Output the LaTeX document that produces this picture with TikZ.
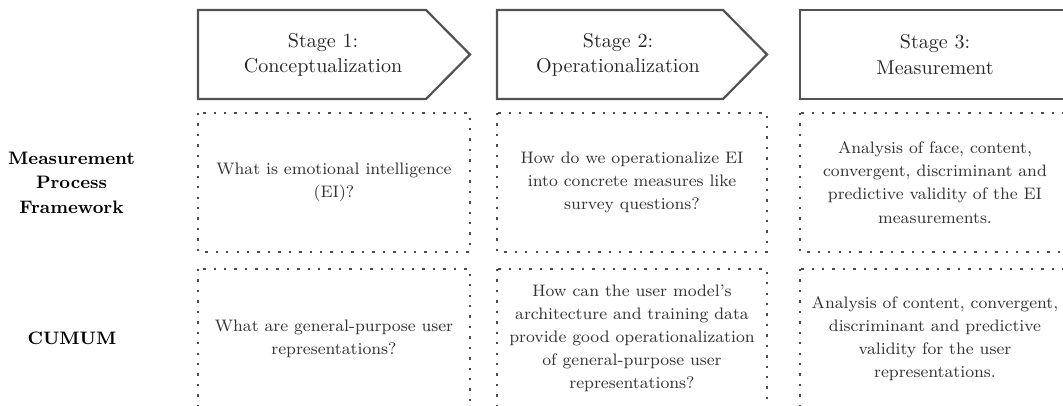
\documentclass[tikz,border=0pt]{standalone}
\usepackage{tikz}
\begin{document}
\begin{tikzpicture}[x=0.498pt, y=-0.498pt,
	stagebox/.style={draw=black!68, line width=1.1pt, line join=miter},
	dotbox/.style={draw=black!70, line width=1.2pt, dash pattern=on 1.2pt off 4pt},
	stagetext/.style={align=center, text=black!85, font=\fontsize{10}{12.5}\selectfont},
	celltext/.style={align=center, text=black!80, font=\fontsize{8.3}{11.5}\selectfont},
	rowlabel/.style={align=center, font=\fontsize{9}{12.2}\selectfont\bfseries}]
		\useasboundingbox (0,0) rectangle (1063,406);
		\clip (0,0) rectangle (1063,406);
		%Fasi
		\draw [stagebox] (198,10) -- (426,10) -- (470,54.5) -- (426,99) -- (198,99) -- cycle;
		\draw [stagebox] (497,10) -- (723,10) -- (767,54.5) -- (723,99) -- (497,99) -- cycle;
		\draw [stagebox] (800,10) rectangle (1070,99);
		\node [stagetext] (stage1) at (323,54.5) {Stage 1:\\Conceptualization};
		\node [stagetext] (stage2) at (618,54.5) {Stage 2:\\Operationalization};
		\node [stagetext] (stage3) at (935,54.5) {Stage 3:\\Measurement};
		%Etichette delle righe
		\node [rowlabel] (mpf) at (71.5,182.5) {Measurement\\Process\\Framework};
		\node [rowlabel] (cumum) at (72,338.5) {CUMUM};
		%Riga 1
		\draw [dotbox] (198,113) rectangle (470,252);
		\draw [dotbox] (497,113) rectangle (767,252);
		\draw [dotbox] (800,113) rectangle (1070,252);
		\node [celltext] (mpf1) at (334,182.5) {What is emotional intelligence\\(EI)?};
		\node [celltext] (mpf2) at (632,182.5) {How do we operationalize EI\\into concrete measures like\\survey questions?};
		\node [celltext] (mpf3) at (935,182.5) {Analysis of face, content,\\convergent, discriminant and\\predictive validity of the EI\\measurements.};
		%Riga 2
		\draw [dotbox] (198,269) rectangle (470,408);
		\draw [dotbox] (497,269) rectangle (767,408);
		\draw [dotbox] (800,269) rectangle (1070,408);
		\node [celltext] (cumum1) at (334,338.5) {What are general-purpose user\\representations?};
		\node [celltext] (cumum2) at (632,338.5) {How can the user model's\\architecture and training data\\provide good operationalization\\of general-purpose user\\representations?};
		\node [celltext] (cumum3) at (935,338.5) {Analysis of content, convergent,\\discriminant and predictive\\validity for the user\\representations.};
	\end{tikzpicture}
\end{document}
